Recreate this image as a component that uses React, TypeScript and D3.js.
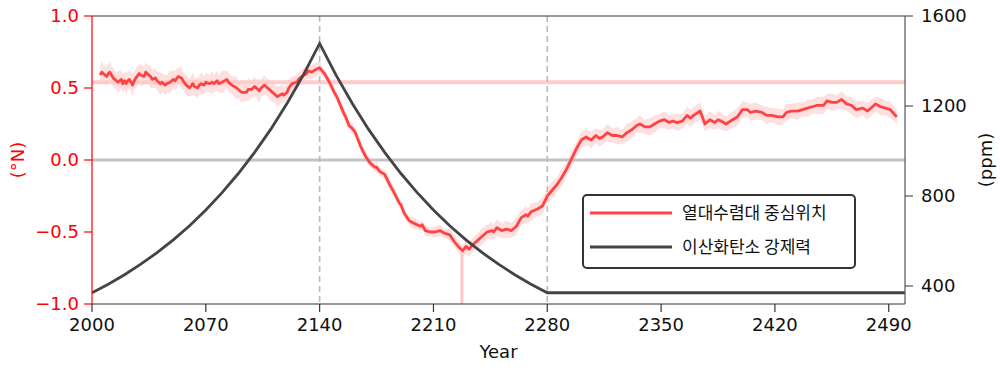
import React from "react";
import * as d3 from "d3";

// ITCZ centre position (°N): [year, mean, spread]
const itczRows: [number, number, number][] = [
  [2005, 0.59, 0.06], [2006, 0.61, 0.08], [2007, 0.60, 0.06], [2009, 0.58, 0.07], [2010, 0.60, 0.06], [2011, 0.61, 0.08], [2012, 0.59, 0.06], [2013, 0.57, 0.07],
  [2015, 0.55, 0.06], [2016, 0.54, 0.08], [2018, 0.56, 0.06], [2019, 0.53, 0.07], [2020, 0.55, 0.06], [2021, 0.53, 0.08], [2022, 0.55, 0.06], [2023, 0.56, 0.07],
  [2024, 0.54, 0.06], [2025, 0.52, 0.08], [2026, 0.55, 0.06], [2027, 0.57, 0.07], [2029, 0.60, 0.06], [2030, 0.59, 0.08], [2032, 0.58, 0.06], [2033, 0.61, 0.07], [2034, 0.60, 0.06],
  [2036, 0.58, 0.08], [2037, 0.56, 0.06], [2039, 0.57, 0.07], [2040, 0.55, 0.06], [2042, 0.53, 0.08], [2043, 0.54, 0.06], [2045, 0.52, 0.07], [2046, 0.53, 0.06], [2048, 0.54, 0.08],
  [2050, 0.56, 0.06], [2051, 0.55, 0.07], [2053, 0.58, 0.06], [2055, 0.57, 0.08], [2056, 0.55, 0.06], [2058, 0.52, 0.07], [2060, 0.50, 0.06],
  [2062, 0.53, 0.08], [2063, 0.51, 0.06], [2065, 0.50, 0.07], [2066, 0.52, 0.06], [2067, 0.53, 0.08], [2069, 0.52, 0.06], [2070, 0.54, 0.07], [2072, 0.53, 0.06],
  [2074, 0.54, 0.08], [2075, 0.53, 0.06], [2077, 0.55, 0.07], [2078, 0.53, 0.06], [2080, 0.54, 0.08], [2083, 0.56, 0.06], [2084, 0.54, 0.07], [2086, 0.52, 0.06], [2089, 0.50, 0.08],
  [2090, 0.49, 0.06], [2092, 0.47, 0.07], [2095, 0.47, 0.06], [2096, 0.49, 0.08], [2098, 0.49, 0.06], [2100, 0.51, 0.07], [2101, 0.50, 0.06], [2103, 0.48, 0.08], [2104, 0.50, 0.06],
  [2106, 0.52, 0.07], [2107, 0.51, 0.06], [2110, 0.48, 0.07], [2112, 0.46, 0.06], [2114, 0.44, 0.07], [2117, 0.46, 0.06], [2118, 0.45, 0.06], [2120, 0.47, 0.05],
  [2121, 0.50, 0.06], [2123, 0.53, 0.05], [2126, 0.54, 0.05], [2127, 0.56, 0.05], [2129, 0.58, 0.05], [2132, 0.60, 0.05], [2133, 0.62, 0.05], [2135, 0.61, 0.05],
  [2138, 0.63, 0.05], [2140, 0.64, 0.04], [2143, 0.60, 0.03], [2146, 0.54, 0.03], [2149, 0.47, 0.04], [2151, 0.43, 0.03],
  [2152, 0.40, 0.03], [2155, 0.32, 0.04], [2156, 0.30, 0.03], [2158, 0.24, 0.03], [2160, 0.22, 0.04], [2162, 0.19, 0.03], [2165, 0.10, 0.03],
  [2168, 0.03, 0.04], [2171, -0.02, 0.03], [2174, -0.05, 0.03], [2175, -0.05, 0.04], [2177, -0.08, 0.03], [2180, -0.10, 0.03],
  [2183, -0.17, 0.04], [2186, -0.23, 0.03], [2189, -0.30, 0.03], [2190, -0.31, 0.04], [2192, -0.37, 0.03], [2195, -0.42, 0.03],
  [2198, -0.44, 0.04], [2202, -0.46, 0.03], [2203, -0.45, 0.03], [2205, -0.49, 0.04], [2208, -0.50, 0.03], [2211, -0.50, 0.04],
  [2214, -0.49, 0.04], [2217, -0.51, 0.03], [2220, -0.52, 0.04], [2223, -0.57, 0.04], [2226, -0.61, 0.04],
  [2228, -0.63, 0.04], [2230, -0.60, 0.05], [2232, -0.62, 0.05], [2234, -0.59, 0.05], [2237, -0.56, 0.05], [2240, -0.53, 0.06],
  [2243, -0.50, 0.05], [2246, -0.49, 0.06], [2247, -0.50, 0.05], [2249, -0.47, 0.06], [2252, -0.49, 0.05], [2255, -0.48, 0.06],
  [2258, -0.49, 0.05], [2261, -0.46, 0.06], [2264, -0.40, 0.05], [2267, -0.38, 0.06], [2268, -0.39, 0.05], [2270, -0.36, 0.06],
  [2274, -0.34, 0.05], [2277, -0.32, 0.06], [2280, -0.25, 0.05], [2283, -0.21, 0.06], [2286, -0.17, 0.05],
  [2289, -0.12, 0.06], [2292, -0.06, 0.05], [2295, 0.01, 0.06], [2298, 0.08, 0.05], [2301, 0.14, 0.06],
  [2304, 0.16, 0.06], [2305, 0.15, 0.05], [2307, 0.14, 0.06], [2310, 0.17, 0.05], [2312, 0.15, 0.06], [2314, 0.16, 0.05], [2317, 0.19, 0.06],
  [2320, 0.17, 0.05], [2323, 0.17, 0.06], [2326, 0.16, 0.05], [2329, 0.19, 0.06], [2332, 0.21, 0.06],
  [2335, 0.24, 0.05], [2337, 0.25, 0.06], [2340, 0.23, 0.05], [2343, 0.23, 0.06], [2346, 0.25, 0.06],
  [2349, 0.27, 0.05], [2352, 0.28, 0.06], [2355, 0.26, 0.05], [2357, 0.27, 0.05], [2360, 0.26, 0.06], [2363, 0.27, 0.05],
  [2366, 0.31, 0.06], [2368, 0.29, 0.06], [2370, 0.31, 0.06], [2374, 0.34, 0.06], [2377, 0.25, 0.05], [2380, 0.28, 0.06],
  [2383, 0.26, 0.05], [2385, 0.28, 0.06], [2387, 0.27, 0.06], [2390, 0.25, 0.05], [2394, 0.28, 0.06], [2397, 0.30, 0.06],
  [2400, 0.35, 0.06], [2403, 0.35, 0.05], [2405, 0.33, 0.06], [2408, 0.34, 0.06], [2412, 0.33, 0.05], [2415, 0.31, 0.06],
  [2418, 0.31, 0.05], [2422, 0.30, 0.06], [2425, 0.30, 0.05], [2427, 0.33, 0.06], [2430, 0.34, 0.05],
  [2434, 0.34, 0.06], [2437, 0.35, 0.05], [2440, 0.36, 0.06], [2443, 0.37, 0.05], [2446, 0.38, 0.06],
  [2450, 0.38, 0.06], [2452, 0.41, 0.05], [2455, 0.40, 0.06], [2458, 0.40, 0.05], [2461, 0.42, 0.06],
  [2464, 0.39, 0.05], [2467, 0.38, 0.06], [2470, 0.35, 0.06], [2474, 0.36, 0.05], [2477, 0.34, 0.06],
  [2482, 0.39, 0.05], [2485, 0.37, 0.06], [2488, 0.36, 0.05], [2491, 0.35, 0.06], [2494, 0.31, 0.05],
  [2495, 0.30, 0.05],
];

// CO2 forcing (ppm)
const co2Years = [2000, 2010, 2020, 2030, 2040, 2050, 2060, 2070, 2080, 2090, 2100, 2110, 2120, 2130, 2140,
  2150, 2160, 2170, 2180, 2190, 2200, 2210, 2220, 2230, 2240, 2250, 2260, 2270, 2280, 2500];
const co2Ppm = [370, 408, 450, 497, 548, 605, 668, 738, 815, 900, 994, 1097, 1212, 1338, 1478,
  1338, 1212, 1097, 994, 900, 815, 738, 668, 605, 548, 497, 450, 408, 370, 370];

const baselineMean = 0.54;
const minYear = 2227.5;
const minValue = -0.63;
const markerYears = [2140, 2280];

const xTicks = [2000, 2070, 2140, 2210, 2280, 2350, 2420, 2490];
const leftTicks = [-1.0, -0.5, 0.0, 0.5, 1.0];
const rightTicks = [400, 800, 1200, 1600];
const legendLabels = ["열대수렴대 중심위치", "이산화탄소 강제력"];

const L = 92, R = 905, T = 16, B = 304;
const RED = "#ff4343";
const AXRED = "#ff0000";
const DARK = "#444444";
const FONT = "'DejaVu Sans', sans-serif";
const KFONT = "'Noto Sans CJK KR', 'DejaVu Sans', sans-serif";

export default function App() {
  const x = d3.scaleLinear().domain([2000, 2500]).range([L, R]);
  const yl = d3.scaleLinear().domain([-1, 1]).range([B, T]);
  const yr = d3.scaleLinear().domain([320, 1600]).range([B, T]);

  const line = d3.line<[number, number, number]>().x(d => x(d[0])).y(d => yl(d[1]));
  const band = d3.area<[number, number, number]>()
    .x(d => x(d[0])).y0(d => yl(d[1] - d[2])).y1(d => yl(d[1] + d[2]));
  const co2Pts = co2Years.map((yv, i) => [yv, co2Ppm[i]] as [number, number]);
  const co2Line = d3.line<[number, number]>().x(d => x(d[0])).y(d => yr(d[1]));

  return (
    <svg width={1000} height={370} style={{ position: "absolute", left: 0, top: 0, background: "#fff" }}>
      <rect x={0} y={0} width={1000} height={370} fill="#fff" />
      <defs>
        <clipPath id="plot"><rect x={L} y={T} width={R - L} height={B - T} /></clipPath>
      </defs>
      <g clipPath="url(#plot)">
        <path d={band(itczRows) || ""} fill="#ffe0e0" />
        <line x1={L} x2={R} y1={yl(baselineMean)} y2={yl(baselineMean)} stroke="#ffcccc" strokeWidth={4} />
        <line x1={L} x2={R} y1={yl(0)} y2={yl(0)} stroke="#c4c4c4" strokeWidth={3} />
        {markerYears.map(m => (
          <line key={m} x1={x(m)} x2={x(m)} y1={T} y2={B} stroke="#bbbbbb" strokeWidth={1.6} strokeDasharray="6,4" />
        ))}
        <line x1={x(minYear)} x2={x(minYear)} y1={yl(minValue)} y2={B} stroke="#ffc8c8" strokeWidth={3} />
        <path d={line(itczRows) || ""} fill="none" stroke={RED} strokeWidth={2.8} strokeLinejoin="round" />
        <path d={co2Line(co2Pts) || ""} fill="none" stroke={DARK} strokeWidth={2.8} strokeLinejoin="miter" />
      </g>

      {/* spines */}
      <line x1={L} x2={R} y1={T} y2={T} stroke="#333" strokeWidth={1.2} />
      <line x1={L} x2={R} y1={B} y2={B} stroke="#333" strokeWidth={1.2} />
      <line x1={R} x2={R} y1={T} y2={B} stroke="#555" strokeWidth={1.2} />
      <line x1={L} x2={L} y1={T} y2={B} stroke={AXRED} strokeWidth={1.2} />

      {/* left axis */}
      {leftTicks.map(t => (
        <g key={t}>
          <line x1={L - 8} x2={L} y1={yl(t)} y2={yl(t)} stroke={AXRED} strokeWidth={1.2} />
          <text x={L - 13} y={yl(t)} dy="0.36em" textAnchor="end" fill={AXRED} fontFamily={FONT} fontSize={18}>
            {(t < 0 ? "\u2212" : "") + Math.abs(t).toFixed(1)}
          </text>
        </g>
      ))}
      <text transform={`translate(24,${(T + B) / 2}) rotate(-90)`} textAnchor="middle" fill={AXRED} fontFamily={FONT} fontSize={18}>(°N)</text>

      {/* right axis */}
      {rightTicks.map(t => (
        <g key={t}>
          <line x1={R} x2={R + 8} y1={yr(t)} y2={yr(t)} stroke="#555" strokeWidth={1.2} />
          <text x={R + 16} y={yr(t)} dy="0.36em" textAnchor="start" fill="#111" fontFamily={FONT} fontSize={18}>{t}</text>
        </g>
      ))}
      <text transform={`translate(992,${(T + B) / 2}) rotate(-90)`} textAnchor="middle" fill="#111" fontFamily={FONT} fontSize={18}>(ppm)</text>

      {/* bottom axis */}
      {xTicks.map(t => (
        <g key={t}>
          <line x1={x(t)} x2={x(t)} y1={B} y2={B + 8} stroke="#333" strokeWidth={1.2} />
          <text x={x(t)} y={B + 27} textAnchor="middle" fill="#111" fontFamily={FONT} fontSize={18}>{t}</text>
        </g>
      ))}
      <text x={(L + R) / 2} y={358} textAnchor="middle" fill="#111" fontFamily={FONT} fontSize={18}>Year</text>

      {/* legend */}
      <rect x={583} y={195} width={272} height={73} rx={4} ry={4} fill="#fff" stroke="#333" strokeWidth={2} />
      {legendLabels.map((lab, i) => (
        <g key={lab}>
          <line x1={590} x2={672} y1={213 + i * 34} y2={213 + i * 34} stroke={i === 0 ? RED : DARK} strokeWidth={2.8} />
          <text x={682} y={213 + i * 34} dy="0.36em" fill="#111" fontFamily={KFONT} fontSize={17}>{lab}</text>
        </g>
      ))}
    </svg>
  );
}
